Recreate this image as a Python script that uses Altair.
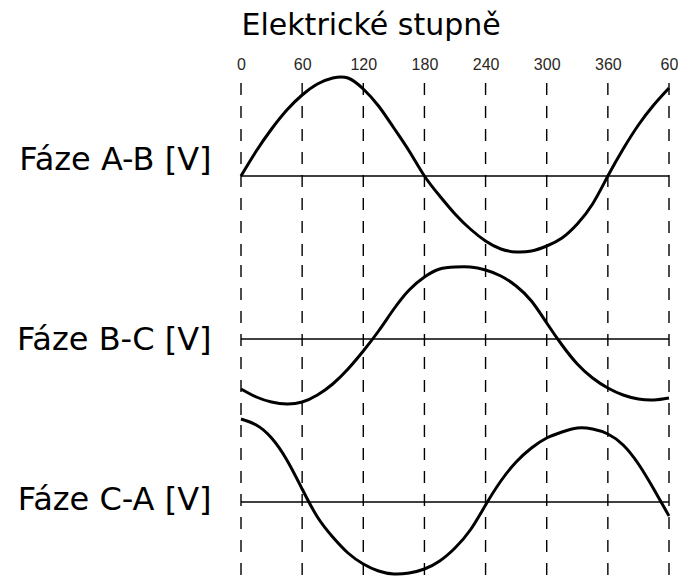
import altair as alt
import pandas as pd

# Electrical angle samples (degrees), one full period plus 60 degrees
DEGREES = [0, 15, 30, 45, 60, 75, 90, 105, 120, 135, 150, 165, 180, 195, 210,
           225, 240, 255, 270, 285, 300, 315, 330, 345, 360, 375, 390, 405, 420]

# Line-to-line voltages (relative units) at each sample
FAZE_AB = [0, 25, 47, 66, 81, 92, 98, 98, 87, 70, 48, 25, 0, -20, -38,
           -53, -65, -73, -76, -75, -70, -62, -48, -28, 0, 27, 51, 71, 88]
FAZE_BC = [-50, -58, -63, -65, -63, -56, -45, -30, -12, 8, 30, 49, 62, 70, 72,
           72, 69, 63, 53, 38, 16, -6, -25, -39, -49, -56, -60, -61, -59]
FAZE_CA = [83, 77, 64, 42, 13, -15, -35, -51, -62, -69, -72, -71, -67, -59, -46,
           -28, -3, 21, 40, 54, 64, 70, 74, 73, 68, 57, 38, 13, -14]

# Angle gridlines and their labels (the last one wraps back to 60)
TICKS = [0, 60, 120, 180, 240, 300, 360, 420]
X_TITLE = "Elektrické stupně"
PHASE_LABELS = ["Fáze A-B [V]", "Fáze B-C [V]", "Fáze C-A [V]"]

FONT = "DejaVu Sans"
W = 428
x_scale = alt.Scale(domain=[0, 420], nice=False, zero=False)
top_axis = alt.Axis(
    orient="top", values=TICKS, labelExpr="datum.value == 420 ? '60' : datum.label",
    ticks=False, domain=False, grid=False, labelFont="Liberation Sans",
    labelFontSize=16, labelColor="#2b2824", labelPadding=5, labelFlush=False,
    title=X_TITLE, titleFont=FONT, titleFontSize=30, titleFontWeight="normal",
    titleColor="black", titleAnchor="start", titleAlign="left", titlePadding=16,
)


def panel(values, label, domain, height, title_y, top=False):
    df = pd.DataFrame({"deg": DEGREES, "v": values})
    grid_df = pd.DataFrame({"deg": TICKS})
    zero_df = pd.DataFrame({"v": [0]})
    x_axis = top_axis if top else None
    y_axis = alt.Axis(
        title=label, titleAngle=0, titleAlign="right", titleBaseline="middle",
        titleX=-30, titleY=title_y, titleFont=FONT, titleFontSize=32,
        titleFontWeight="normal", titleColor="black",
        labels=False, ticks=False, domain=False, grid=False,
    )
    y_scale = alt.Scale(domain=domain, nice=False, zero=False)

    grid = alt.Chart(grid_df).mark_rule(
        color="black", strokeWidth=1.4, strokeDash=[12, 11], strokeDashOffset=17
    ).encode(x=alt.X("deg:Q", scale=x_scale, axis=x_axis, title=X_TITLE))

    zero = alt.Chart(zero_df).mark_rule(color="black", strokeWidth=1.5).encode(
        y=alt.Y("v:Q", scale=y_scale, axis=y_axis, title=label)
    )

    curve = alt.Chart(df).mark_line(
        color="black", strokeWidth=3, interpolate="natural", clip=False
    ).encode(
        x=alt.X("deg:Q", scale=x_scale, axis=x_axis, title=X_TITLE),
        y=alt.Y("v:Q", scale=y_scale, axis=y_axis, title=label),
    )
    return alt.layer(grid, zero, curve).properties(width=W, height=height)


chart = alt.vconcat(
    panel(FAZE_AB, PHASE_LABELS[0], [-83, 99], 182, 82, top=True),
    panel(FAZE_BC, PHASE_LABELS[1], [-80, 80], 160, 80),
    panel(FAZE_CA, PHASE_LABELS[2], [-77, 83], 160, 80),
    spacing=0,
    bounds="flush",
).properties(
    padding={"left": 16, "top": 10, "right": 0, "bottom": 0}
).configure(background="white").configure_view(stroke=None)

chart.save("out.html", embed_options={"renderer": "svg", "actions": False})
